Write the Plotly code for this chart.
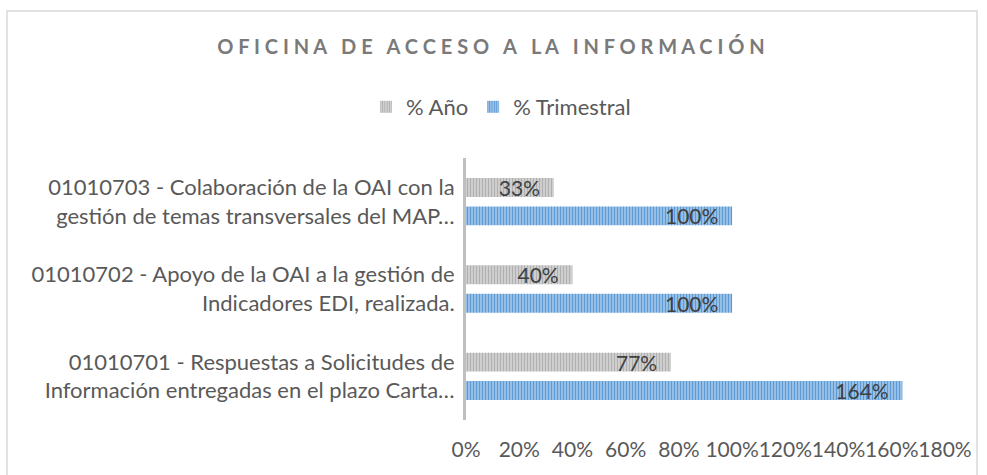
import plotly.graph_objects as go

categories = [
    "01010701 - Respuestas a Solicitudes de<br>Información entregadas en el plazo Carta…",
    "01010702 - Apoyo de la OAI a la gestión de<br>Indicadores EDI, realizada.",
    "01010703 - Colaboración de la OAI con la<br>gestión de temas transversales del MAP…",
]
anio = [0.77, 0.40, 0.33]
trimestral = [1.64, 1.00, 1.00]
series_names = ["% Año", "% Trimestral"]
x_ticks = [0, 0.2, 0.4, 0.6, 0.8, 1.0, 1.2, 1.4, 1.6, 1.8]
x_tick_labels = ["0%", "20%", "40%", "60%", "80%", "100%", "120%", "140%", "160%", "180%"]
title_text = "OFICINA DE ACCESO A LA INFORMACIÓN"

NB = "\u00a0"
spaced_title = (NB * 3).join(NB.join(word) for word in title_text.split(" "))

FONT = "Lato"
FS = 22
label_font = dict(family=FONT, size=21, color="#404040")

fig = go.Figure()
fig.add_trace(go.Bar(
    y=categories, x=trimestral, orientation="h", name=series_names[1],
    legendrank=2,
    marker=dict(color="#5b9bd5", line=dict(width=0),
                pattern=dict(shape="|", fgcolor="#5b9bd5", bgcolor="#b4d1ee",
                             size=3, solidity=0.55, fillmode="replace")),
    texttemplate="%{x:.0%}" + NB * 2, textposition="inside", insidetextanchor="end",
    constraintext="none", textfont=label_font, insidetextfont=label_font,
    hoverinfo="skip",
))
fig.add_trace(go.Bar(
    y=categories, x=anio, orientation="h", name=series_names[0],
    legendrank=1,
    marker=dict(color="#a5a5a5", line=dict(width=0),
                pattern=dict(shape="|", fgcolor="#b0b0b0", bgcolor="#dcdcdc",
                             size=3, solidity=0.55, fillmode="replace")),
    texttemplate="%{x:.0%}" + NB * 2, textposition="inside", insidetextanchor="end",
    constraintext="none", textfont=label_font, insidetextfont=label_font,
    hoverinfo="skip",
))

fig.update_layout(
    width=987, height=475,
    margin=dict(l=466, r=42, t=158, b=55, autoexpand=False),
    paper_bgcolor="white", plot_bgcolor="white",
    barmode="group", bargap=0.348, bargroupgap=0.335,
    font=dict(family=FONT, size=FS, color="#595959"),
    title=dict(text=spaced_title, x=491 / 987, xanchor="center",
               y=1 - 47 / 475, yanchor="middle", yref="container", xref="container",
               font=dict(family=FONT, size=20, color="#7a7a7a", weight="bold")),
    legend=dict(orientation="h", xref="container", yref="container",
                x=501 / 987, xanchor="center", y=1 - 107 / 475, yanchor="middle",
                font=dict(family=FONT, size=FS, color="#595959"),
                itemwidth=30, tracegroupgap=0),
    showlegend=True,
    xaxis=dict(range=[0, 1.8], tickmode="array", tickvals=x_ticks, ticktext=x_tick_labels,
               tickangle=0, automargin=False,
               showgrid=False, zeroline=False, showline=False, ticks="",
               tickfont=dict(family=FONT, size=21, color="#595959"),
               ticklabelstandoff=15, fixedrange=True),
    yaxis=dict(showline=True, linecolor="#bfbfbf", linewidth=3, ticks="",
               showgrid=False, zeroline=False, ticklabelstandoff=4, automargin=False,
               tickfont=dict(family=FONT, size=FS, color="#595959"),
               range=[-0.5, 2.5], fixedrange=True),
    shapes=[dict(type="rect", xref="paper", yref="paper",
                 x0=(7 - 466) / 479, x1=(977 - 466) / 479,
                 y0=(420 - 490) / 262, y1=1 + (158 - 11) / 262,
                 line=dict(color="#d9d9d9", width=1.5), fillcolor="rgba(0,0,0,0)",
                 layer="below")],
)

fig.write_html("out.html", config={"displayModeBar": False},
               post_script="document.body.style.margin='0';document.body.style.padding='0';")
